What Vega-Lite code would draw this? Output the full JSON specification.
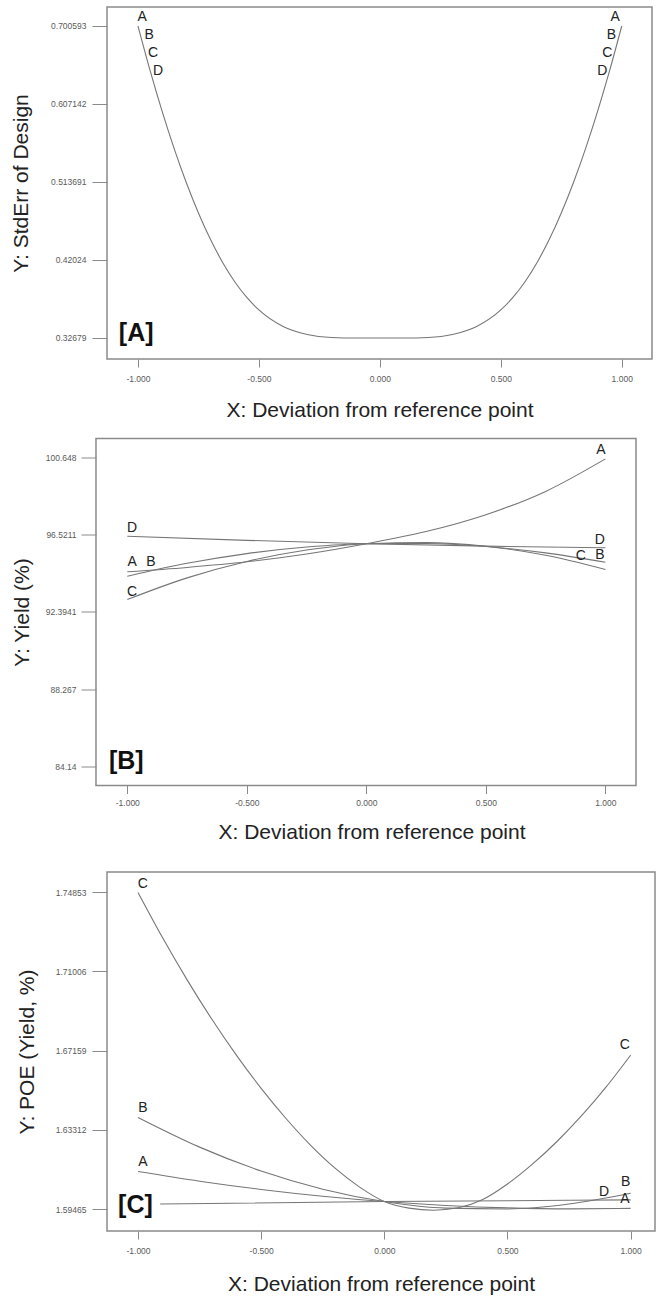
{
  "$schema": "https://vega.github.io/schema/vega-lite/v6.json",
  "padding": {"left": 9, "top": 6, "right": 0, "bottom": 0},
  "background": "white",
  "config": {
    "view": {"stroke": "#8a8a8a", "strokeWidth": 1.5},
    "font": "Liberation Sans",
    "axis": {"grid": false, "domain": false, "tickColor": "#8a8a8a", "tickWidth": 1, "labelColor": "#5a5a5a", "labelFont": "Liberation Sans", "labelFontSize": 8.5, "labelFlush": false, "labelOverlap": false, "titleFont": "Liberation Sans", "titleFontSize": 21, "titleFontWeight": "normal", "titleColor": "#222222"},
    "axisX": {"tickSize": 8},
    "axisY": {"tickSize": 15}
  },
  "datasets": {
    "pa": [
      {"x": -1, "y": 0.7006}, {"x": -0.95, "y": 0.6474}, {"x": -0.9, "y": 0.5983}, {"x": -0.85, "y": 0.5534}, {"x": -0.8, "y": 0.5128}, {"x": -0.75, "y": 0.4766}, {"x": -0.7, "y": 0.4447}, {"x": -0.65, "y": 0.4173}, {"x": -0.6, "y": 0.3942}, {"x": -0.55, "y": 0.3754}, {"x": -0.5, "y": 0.3604}, {"x": -0.4, "y": 0.3405}, {"x": -0.3, "y": 0.3309}, {"x": -0.2, "y": 0.3274}, {"x": -0.1, "y": 0.3268}, {"x": 0, "y": 0.3268},
      {"x": 0.1, "y": 0.3268}, {"x": 0.2, "y": 0.3274}, {"x": 0.3, "y": 0.3309}, {"x": 0.4, "y": 0.3405}, {"x": 0.5, "y": 0.3604}, {"x": 0.55, "y": 0.3754}, {"x": 0.6, "y": 0.3942}, {"x": 0.65, "y": 0.4173}, {"x": 0.7, "y": 0.4447}, {"x": 0.75, "y": 0.4766}, {"x": 0.8, "y": 0.5128}, {"x": 0.85, "y": 0.5534}, {"x": 0.9, "y": 0.5983}, {"x": 0.95, "y": 0.6474}, {"x": 1, "y": 0.7006}
    ],
    "pal": [
      {"x": -0.983, "y": 0.7114, "t": "A"}, {"x": -0.954, "y": 0.6898, "t": "B"}, {"x": -0.938, "y": 0.6683, "t": "C"}, {"x": -0.917, "y": 0.6467, "t": "D"},
      {"x": 0.973, "y": 0.7114, "t": "A"}, {"x": 0.957, "y": 0.6898, "t": "B"}, {"x": 0.94, "y": 0.6683, "t": "C"}, {"x": 0.92, "y": 0.6467, "t": "D"}
    ],
    "pat": [{"x": -1.079, "y": 0.3328, "t": "[A]"}],
    "pb": [
      {"s": "A", "x": -1, "y": 94.55}, {"s": "A", "x": -0.75, "y": 94.78}, {"s": "A", "x": -0.5, "y": 95.08}, {"s": "A", "x": -0.25, "y": 95.5}, {"s": "A", "x": 0, "y": 96.05}, {"s": "A", "x": 0.25, "y": 96.7}, {"s": "A", "x": 0.5, "y": 97.6}, {"s": "A", "x": 0.75, "y": 98.85}, {"s": "A", "x": 1, "y": 100.59},
      {"s": "B", "x": -1, "y": 94.31}, {"s": "B", "x": -0.75, "y": 95.0}, {"s": "B", "x": -0.5, "y": 95.52}, {"s": "B", "x": -0.25, "y": 95.87}, {"s": "B", "x": 0, "y": 96.05}, {"s": "B", "x": 0.25, "y": 96.06}, {"s": "B", "x": 0.5, "y": 95.9}, {"s": "B", "x": 0.75, "y": 95.56}, {"s": "B", "x": 1, "y": 95.06},
      {"s": "C", "x": -1, "y": 93.06}, {"s": "C", "x": -0.75, "y": 94.22}, {"s": "C", "x": -0.5, "y": 95.1}, {"s": "C", "x": -0.25, "y": 95.71}, {"s": "C", "x": 0, "y": 96.05}, {"s": "C", "x": 0.25, "y": 96.11}, {"s": "C", "x": 0.5, "y": 95.91}, {"s": "C", "x": 0.75, "y": 95.43}, {"s": "C", "x": 1, "y": 94.67},
      {"s": "D", "x": -1, "y": 96.45}, {"s": "D", "x": -0.5, "y": 96.23}, {"s": "D", "x": 0, "y": 96.05}, {"s": "D", "x": 0.5, "y": 95.92}, {"s": "D", "x": 1, "y": 95.83}
    ],
    "pbl": [
      {"x": -0.98, "y": 96.917, "t": "D"}, {"x": -0.98, "y": 95.097, "t": "A"}, {"x": -0.901, "y": 95.044, "t": "B"}, {"x": -0.98, "y": 93.49, "t": "C"},
      {"x": 0.981, "y": 101.05, "t": "A"}, {"x": 0.977, "y": 96.24, "t": "D"}, {"x": 0.977, "y": 95.47, "t": "B"}, {"x": 0.897, "y": 95.38, "t": "C"}
    ],
    "pbt": [{"x": -1.077, "y": 84.41, "t": "[B]"}],
    "pc": [
      {"s": "A", "x": -1, "y": 1.61296}, {"s": "A", "x": -0.75, "y": 1.60827}, {"s": "A", "x": -0.5, "y": 1.60428}, {"s": "A", "x": -0.25, "y": 1.60098}, {"s": "A", "x": 0, "y": 1.5984}, {"s": "A", "x": 0.25, "y": 1.59652}, {"s": "A", "x": 0.5, "y": 1.59534}, {"s": "A", "x": 0.75, "y": 1.59487}, {"s": "A", "x": 1, "y": 1.5951},
      {"s": "B", "x": -1, "y": 1.6392}, {"s": "B", "x": -0.75, "y": 1.6248}, {"s": "B", "x": -0.5, "y": 1.6132}, {"s": "B", "x": -0.25, "y": 1.6044}, {"s": "B", "x": 0, "y": 1.5984}, {"s": "B", "x": 0.25, "y": 1.5952}, {"s": "B", "x": 0.5, "y": 1.5948}, {"s": "B", "x": 0.75, "y": 1.5972}, {"s": "B", "x": 1, "y": 1.6024},
      {"s": "C", "x": -1, "y": 1.7483}, {"s": "C", "x": -0.9, "y": 1.7263}, {"s": "C", "x": -0.8, "y": 1.7058}, {"s": "C", "x": -0.7, "y": 1.6868}, {"s": "C", "x": -0.6, "y": 1.6693}, {"s": "C", "x": -0.5, "y": 1.6533}, {"s": "C", "x": -0.4, "y": 1.6388}, {"s": "C", "x": -0.3, "y": 1.6258}, {"s": "C", "x": -0.2, "y": 1.6146}, {"s": "C", "x": -0.1, "y": 1.6054}, {"s": "C", "x": 0, "y": 1.5984}, {"s": "C", "x": 0.1, "y": 1.5952}, {"s": "C", "x": 0.2, "y": 1.5942}, {"s": "C", "x": 0.3, "y": 1.5954}, {"s": "C", "x": 0.4, "y": 1.5994}, {"s": "C", "x": 0.5, "y": 1.6069}, {"s": "C", "x": 0.6, "y": 1.6164}, {"s": "C", "x": 0.7, "y": 1.6274}, {"s": "C", "x": 0.8, "y": 1.6399}, {"s": "C", "x": 0.9, "y": 1.6539}, {"s": "C", "x": 1, "y": 1.6694},
      {"s": "D", "x": -0.91, "y": 1.5972}, {"s": "D", "x": 0, "y": 1.5984}, {"s": "D", "x": 0.5, "y": 1.5988}, {"s": "D", "x": 1, "y": 1.5992}
    ],
    "pcl": [
      {"x": -0.98, "y": 1.75241, "t": "C"}, {"x": -0.98, "y": 1.64368, "t": "B"}, {"x": -0.98, "y": 1.61781, "t": "A"},
      {"x": 0.976, "y": 1.67441, "t": "C"}, {"x": 0.98, "y": 1.6081, "t": "B"}, {"x": 0.892, "y": 1.60325, "t": "D"}, {"x": 0.977, "y": 1.59966, "t": "A"}
    ],
    "pct": [{"x": -1.081, "y": 1.59675, "t": "[C]"}],
    "pbb": [{"x": -1.131, "x2": 1.128, "y": 83.107, "y2": 101.681}]
  },
  "concat": [
    {
      "width": 545,
      "height": 352,
      "encoding": {
        "x": {"field": "x", "type": "quantitative", "scale": {"domain": [-1.128, 1.125], "nice": false, "zero": false},
          "axis": {"values": [-1, -0.5, 0, 0.5, 1], "labelExpr": "replace(format(datum.value, '.3f'), '\u2212', '-')", "labelPadding": 7, "titlePadding": 17, "title": "X: Deviation from reference point"}},
        "y": {"field": "y", "type": "quantitative", "scale": {"domain": [0.30163, 0.72335], "nice": false, "zero": false},
          "axis": {"values": [0.32679, 0.42024, 0.513691, 0.607142, 0.700593], "labelExpr": "'' + datum.value", "labelPadding": 6, "titlePadding": 19, "title": "Y: StdErr of Design"}}
      },
      "layer": [
        {"data": {"name": "pa"}, "mark": {"type": "line", "color": "#767676", "strokeWidth": 1.1, "interpolate": "monotone"}},
        {"data": {"name": "pal"}, "mark": {"type": "text", "fontSize": 14, "color": "#222222"}, "encoding": {"text": {"field": "t"}}},
        {"data": {"name": "pat"}, "mark": {"type": "text", "fontSize": 25, "fontWeight": "bold", "align": "left", "color": "#111111"}, "encoding": {"text": {"field": "t"}}}
      ]
    },
    {
      "concat": [
        {
          "width": 529,
          "height": 347,
          "view": {"stroke": null},
          "encoding": {
            "x": {"field": "x", "type": "quantitative", "scale": {"domain": [-1.0849, 1.128], "nice": false, "zero": false},
              "axis": {"values": [-1, -0.5, 0, 0.5, 1], "labelExpr": "replace(format(datum.value, '.3f'), '\u2212', '-')", "labelPadding": 5, "titlePadding": 14, "title": "X: Deviation from reference point"}},
            "y": {"field": "y", "type": "quantitative", "scale": {"domain": [83.107, 101.681], "nice": false, "zero": false},
              "axis": {"values": [84.14, 88.267, 92.3941, 96.5211, 100.648], "labelExpr": "'' + datum.value", "labelPadding": 5, "titlePadding": 13, "offset": 11, "title": "Y: Yield (%)"}}
          },
          "layer": [
            {"data": {"name": "pbb"}, "mark": {"type": "rect", "filled": false, "stroke": "#8a8a8a", "strokeWidth": 1.5}, "encoding": {"x2": {"field": "x2"}, "y2": {"field": "y2"}}},
            {"data": {"name": "pb"}, "mark": {"type": "line", "color": "#767676", "strokeWidth": 1.1, "interpolate": "monotone"}, "encoding": {"detail": {"field": "s"}}},
            {"data": {"name": "pbl"}, "mark": {"type": "text", "fontSize": 14, "color": "#222222"}, "encoding": {"text": {"field": "t"}}},
            {"data": {"name": "pbt"}, "mark": {"type": "text", "fontSize": 25, "fontWeight": "bold", "align": "left", "color": "#111111"}, "encoding": {"text": {"field": "t"}}}
          ]
        },
        {
          "width": 548,
          "height": 359,
          "encoding": {
            "x": {"field": "x", "type": "quantitative", "scale": {"domain": [-1.1259, 1.099], "nice": false, "zero": false},
              "axis": {"values": [-1, -0.5, 0, 0.5, 1], "labelExpr": "replace(format(datum.value, '.3f'), '\u2212', '-')", "labelPadding": 7, "titlePadding": 19, "title": "X: Deviation from reference point"}},
            "y": {"field": "y", "type": "quantitative", "scale": {"domain": [1.58412, 1.75824], "nice": false, "zero": false},
              "axis": {"values": [1.59465, 1.63312, 1.67159, 1.71006, 1.74853], "labelExpr": "'' + datum.value", "labelPadding": 6, "titlePadding": 18, "title": "Y: POE (Yield, %)"}}
          },
          "layer": [
            {"data": {"name": "pc"}, "mark": {"type": "line", "color": "#767676", "strokeWidth": 1.1, "interpolate": "monotone"}, "encoding": {"detail": {"field": "s"}}},
            {"data": {"name": "pcl"}, "mark": {"type": "text", "fontSize": 14, "color": "#222222"}, "encoding": {"text": {"field": "t"}}},
            {"data": {"name": "pct"}, "mark": {"type": "text", "fontSize": 25, "fontWeight": "bold", "align": "left", "color": "#111111"}, "encoding": {"text": {"field": "t"}}}
          ]
        }
      ],
      "columns": 1,
      "align": "none",
      "spacing": 28.5
    }
  ],
  "columns": 1,
  "align": "none",
  "spacing": 15.5
}
